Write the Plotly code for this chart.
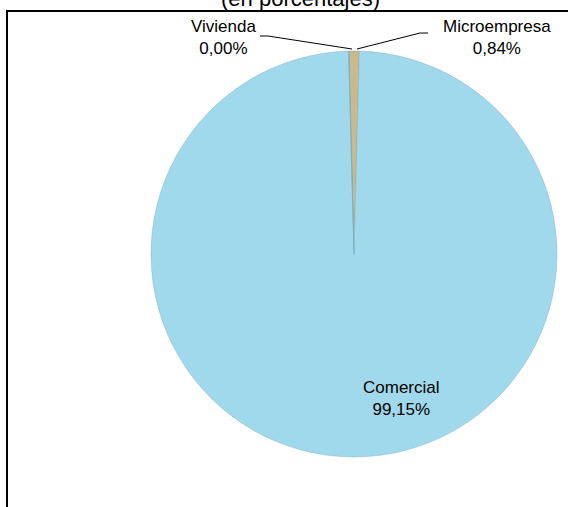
import plotly.graph_objects as go

# Data
categories = ["Microempresa", "Comercial", "Vivienda"]
values = [0.84, 99.15, 0.00]
colors = ["#C8BA8E", "#A0D9EB", "#B0A070"]
title_text = "(en porcentajes)"

W, H = 568, 507
FONT = "Arial, Liberation Sans, sans-serif"

def px(x):
    return x / W

def py(y):
    return 1 - y / H

def fmt(v):
    return f"{v:.2f}".replace(".", ",") + "%"

cx, cy, r = 354, 254, 203

fig = go.Figure(go.Pie(
    labels=categories,
    values=values,
    sort=False,
    direction="clockwise",
    rotation=-1.5,
    marker=dict(colors=colors, line=dict(color="rgba(110,160,180,0.35)", width=1)),
    textinfo="none",
    hoverinfo="label+percent",
    showlegend=False,
    domain=dict(x=[px(cx - r), px(cx + r)], y=[py(cy + r), py(cy - r)]),
))

lab = dict(zip(categories, values))
annotations = [
    dict(text=title_text, x=px(300), y=py(13), xref="paper", yref="paper",
         xanchor="center", yanchor="bottom", showarrow=False,
         font=dict(family=FONT, size=22, color="#000")),
    dict(text=f"Vivienda<br>{fmt(lab['Vivienda'])}", x=px(223), y=py(37),
         xref="paper", yref="paper", xanchor="center", yanchor="middle", showarrow=False,
         font=dict(family=FONT, size=17, color="#000")),
    dict(text=f"Microempresa<br>{fmt(lab['Microempresa'])}", x=px(497), y=py(37),
         xref="paper", yref="paper", xanchor="center", yanchor="middle", showarrow=False,
         font=dict(family=FONT, size=17, color="#000")),
    dict(text=f"Comercial<br>{fmt(lab['Comercial'])}", x=px(401), y=py(398),
         xref="paper", yref="paper", xanchor="center", yanchor="middle", showarrow=False,
         font=dict(family=FONT, size=17, color="#000")),
]

shapes = [
    dict(type="rect", xref="paper", yref="paper", x0=px(7), x1=px(W + 10), y0=py(H + 10), y1=py(11),
         line=dict(color="#000", width=2), fillcolor="rgba(0,0,0,0)", layer="below"),
    dict(type="path", xref="paper", yref="paper",
         path=f"M {px(260)},{py(36)} L {px(268)},{py(36)} L {px(352)},{py(49)}",
         line=dict(color="#000", width=1)),
    dict(type="path", xref="paper", yref="paper",
         path=f"M {px(428)},{py(33)} L {px(420)},{py(33)} L {px(357)},{py(49)}",
         line=dict(color="#000", width=1)),
]

fig.update_layout(
    width=W, height=H,
    margin=dict(l=0, r=0, t=0, b=0),
    paper_bgcolor="white", plot_bgcolor="white",
    annotations=annotations, shapes=shapes,
)

fig.write_html("out.html", config={"displayModeBar": False},
               post_script="document.body.style.margin='0';document.body.style.overflow='hidden';")
